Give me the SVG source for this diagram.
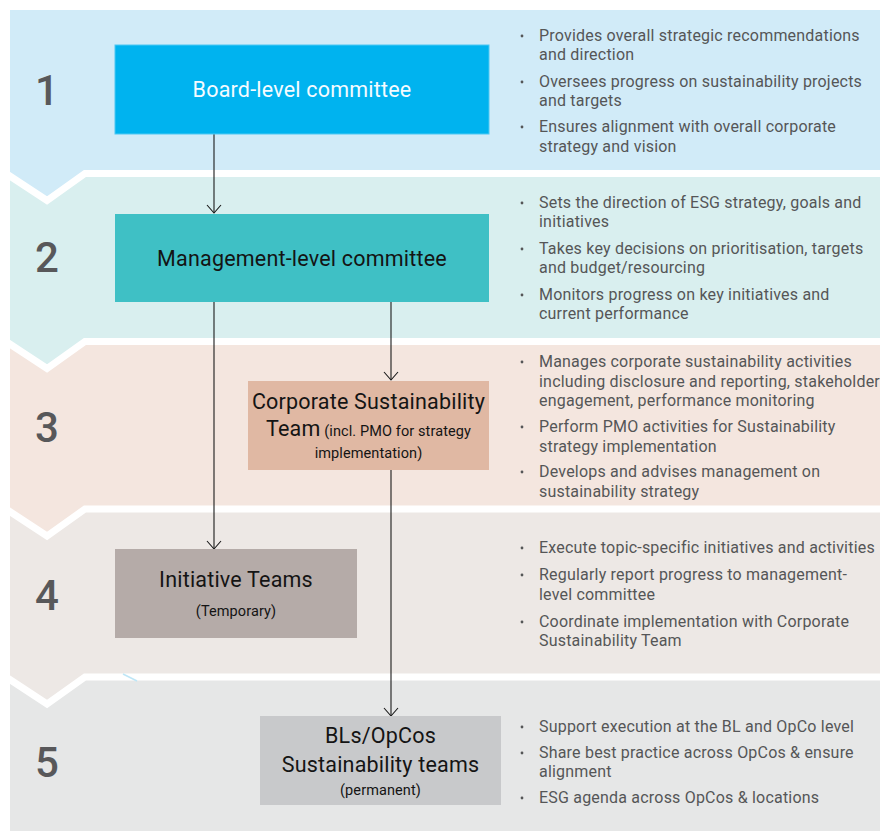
<svg xmlns="http://www.w3.org/2000/svg" width="880" height="831" viewBox="0 0 880 831">
  <style>
    .num { font-family: Roboto, "Liberation Sans", sans-serif; font-size: 42px; font-weight: 500; fill: #58585a; text-anchor: middle; }
    .box-t { font-family: Roboto, "Liberation Sans", sans-serif; font-size: 21.5px; letter-spacing: 0.2px; fill: #141414; text-anchor: middle; }
    .small { font-size: 14.5px; letter-spacing: 0.1px; }
    .bul { font-family: Roboto, "Liberation Sans", sans-serif; font-size: 16px; letter-spacing: 0.2px; fill: #555657; }
    .dot { fill: #555657; }
    .sep { fill: none; stroke: #ffffff; stroke-width: 7; stroke-linejoin: miter; }
    .conn { stroke: #1a1a1a; stroke-width: 1.1; fill: none; }
  </style>
  <defs>
    <marker id="vhead" markerUnits="userSpaceOnUse" markerWidth="20" markerHeight="20" refX="0" refY="0" orient="auto" overflow="visible">
      <path d="M-8,-7 L0,0 L-8,7" fill="none" stroke="#1a1a1a" stroke-width="1.1"/>
    </marker>
  </defs>

  <rect width="880" height="831" fill="#ffffff"/>

  <!-- tier bands: drawn bottom-up so each chevron laps over the next band -->
  <g id="bands">
    <rect x="10" y="674" width="870" height="157" fill="#e6e7e7"/>
    <polygon points="10,506 880,506 880,677 85,677 47,704 10,677" fill="#ede8e5"/>
    <polyline class="sep" points="6,677 47,704 85,677 884,677"/>
    <polygon points="10,338 880,338 880,509 85,509 47,536 10,509" fill="#f4e6df"/>
    <polyline class="sep" points="6,509 47,536 85,509 884,509"/>
    <polygon points="10,170 880,170 880,341.5 85,341.5 47,368.5 10,341.5" fill="#d9efef"/>
    <polyline class="sep" points="6,341.5 47,368.5 85,341.5 884,341.5"/>
    <polygon points="10,10 880,10 880,173.5 85,173.5 47,200.5 10,173.5" fill="#d1ebf8"/>
    <polyline class="sep" points="6,173.5 47,200.5 85,173.5 884,173.5"/>
    <line x1="123" y1="674" x2="137" y2="681" stroke="#bfe6f6" stroke-width="1.6"/>
  </g>

  <!-- tier numbers -->
  <g id="numbers">
    <text class="num" x="47" y="105">1</text>
    <text class="num" x="47" y="272">2</text>
    <text class="num" x="47" y="442">3</text>
    <text class="num" x="47" y="610">4</text>
    <text class="num" x="47" y="777">5</text>
  </g>

  <!-- connectors -->
  <g id="connectors">
    <line class="conn" x1="214" y1="134" x2="214" y2="213" marker-end="url(#vhead)"/>
    <line class="conn" x1="214" y1="302" x2="214" y2="549" marker-end="url(#vhead)"/>
    <line class="conn" x1="391" y1="302" x2="391" y2="380" marker-end="url(#vhead)"/>
    <line class="conn" x1="391" y1="470" x2="391" y2="716" marker-end="url(#vhead)"/>
  </g>

  <g id="board">
    <rect x="115" y="45" width="374" height="89" fill="#00b3ef" stroke="#4cc8f3" stroke-width="1"/>
    <text class="box-t" x="302" y="97" style="fill:#f5fbff">Board-level committee</text>
  </g>

  <g id="management">
    <rect x="115" y="214" width="374" height="88" fill="#3fc0c5"/>
    <text class="box-t" x="302" y="266">Management-level committee</text>
  </g>

  <g id="corporate">
    <rect x="248" y="381" width="241" height="89" fill="#e0b8a3"/>
    <text class="box-t" x="368.5" y="409">Corporate Sustainability</text>
    <text class="box-t" x="368.5" y="436">Team<tspan class="small"> (incl. PMO for strategy</tspan></text>
    <text class="box-t small" x="368.5" y="458">implementation)</text>
  </g>

  <g id="initiative">
    <rect x="115" y="549" width="242" height="89" fill="#b5aba8"/>
    <text class="box-t" x="236" y="587">Initiative Teams</text>
    <text class="box-t small" x="236" y="616">(Temporary)</text>
  </g>

  <g id="opcos">
    <rect x="260" y="716" width="241" height="89" fill="#c8c9cb"/>
    <text class="box-t" x="380.5" y="743">BLs/OpCos</text>
    <text class="box-t" x="380.5" y="772">Sustainability teams</text>
    <text class="box-t small" x="380.5" y="795">(permanent)</text>
  </g>

  <!-- responsibilities per tier -->
  <g id="notes-1">
    <circle class="dot" cx="522" cy="36" r="1.4"/>
    <circle class="dot" cx="522" cy="82" r="1.4"/>
    <circle class="dot" cx="522" cy="127" r="1.4"/>
    <text class="bul" x="539" y="41">Provides overall strategic recommendations</text>
    <text class="bul" x="539" y="60">and direction</text>
    <text class="bul" x="539" y="87">Oversees progress on sustainability projects</text>
    <text class="bul" x="539" y="106">and targets</text>
    <text class="bul" x="539" y="132">Ensures alignment with overall corporate</text>
    <text class="bul" x="539" y="152">strategy and vision</text>
  </g>

  <g id="notes-2">
    <circle class="dot" cx="522" cy="203" r="1.4"/>
    <circle class="dot" cx="522" cy="249" r="1.4"/>
    <circle class="dot" cx="522" cy="295" r="1.4"/>
    <text class="bul" x="539" y="208">Sets the direction of ESG strategy, goals and</text>
    <text class="bul" x="539" y="227">initiatives</text>
    <text class="bul" x="539" y="254">Takes key decisions on prioritisation, targets</text>
    <text class="bul" x="539" y="273">and budget/resourcing</text>
    <text class="bul" x="539" y="300">Monitors progress on key initiatives and</text>
    <text class="bul" x="539" y="319">current performance</text>
  </g>

  <g id="notes-3">
    <circle class="dot" cx="522" cy="362" r="1.4"/>
    <circle class="dot" cx="522" cy="427" r="1.4"/>
    <circle class="dot" cx="522" cy="472" r="1.4"/>
    <text class="bul" x="539" y="367">Manages corporate sustainability activities</text>
    <text class="bul" x="539" y="387">including disclosure and reporting, stakeholder</text>
    <text class="bul" x="539" y="406">engagement, performance monitoring</text>
    <text class="bul" x="539" y="432">Perform PMO activities for Sustainability</text>
    <text class="bul" x="539" y="452">strategy implementation</text>
    <text class="bul" x="539" y="477">Develops and advises management on</text>
    <text class="bul" x="539" y="497">sustainability strategy</text>
  </g>

  <g id="notes-4">
    <circle class="dot" cx="522" cy="548" r="1.4"/>
    <circle class="dot" cx="522" cy="575" r="1.4"/>
    <circle class="dot" cx="522" cy="622" r="1.4"/>
    <text class="bul" x="539" y="553">Execute topic-specific initiatives and activities</text>
    <text class="bul" x="539" y="580">Regularly report progress to management-</text>
    <text class="bul" x="539" y="600">level committee</text>
    <text class="bul" x="539" y="627">Coordinate implementation with Corporate</text>
    <text class="bul" x="539" y="646">Sustainability Team</text>
  </g>

  <g id="notes-5">
    <circle class="dot" cx="522" cy="727" r="1.4"/>
    <circle class="dot" cx="522" cy="753" r="1.4"/>
    <circle class="dot" cx="522" cy="798" r="1.4"/>
    <text class="bul" x="539" y="732">Support execution at the BL and OpCo level</text>
    <text class="bul" x="539" y="758">Share best practice across OpCos &amp; ensure</text>
    <text class="bul" x="539" y="777">alignment</text>
    <text class="bul" x="539" y="803">ESG agenda across OpCos &amp; locations</text>
  </g>
</svg>
